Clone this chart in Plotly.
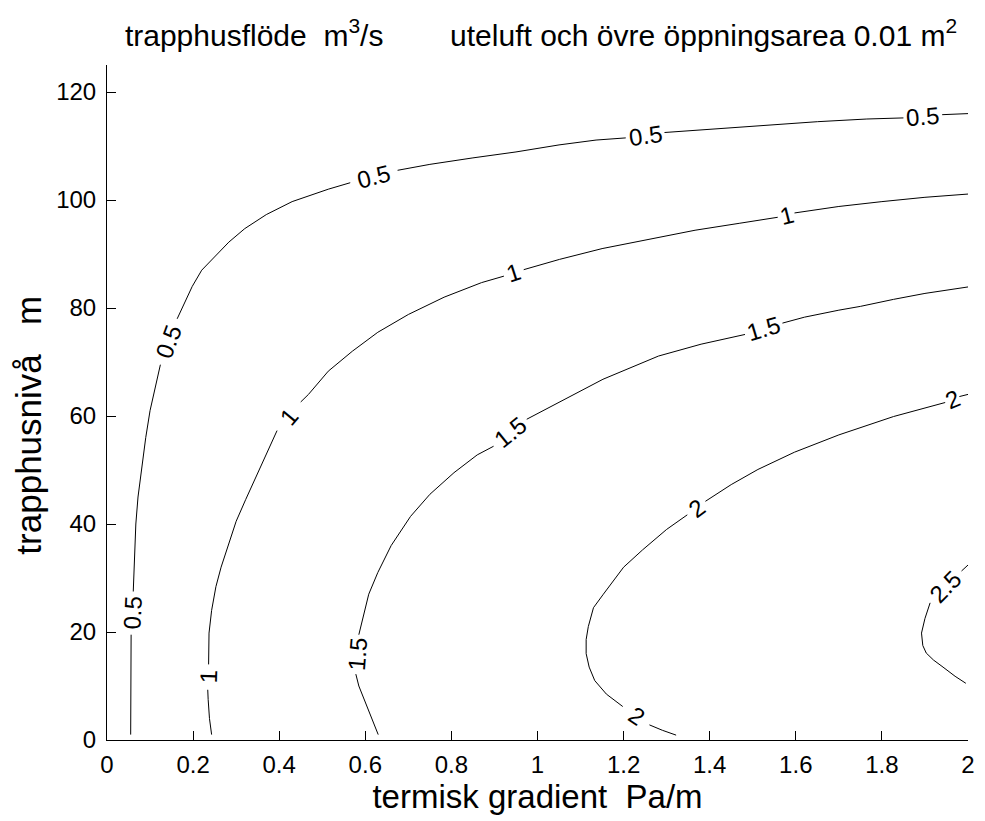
import math
import plotly.graph_objects as go

# ---------------- data ----------------
levels = [0.5, 1.0, 1.5, 2.0, 2.5]
level_text = ["0.5", "1", "1.5", "2", "2.5"]

# contour 0.5  (None = gap left for a label)
c05_x = [0.055, 0.055, 0.055, 0.056, None,
         0.061, 0.064, 0.067, 0.072, 0.080, 0.090, 0.100, 0.112, 0.124, None,
         0.163, 0.180, 0.198, 0.220, 0.250, 0.283, 0.320, 0.370, 0.430, 0.514, 0.565, None,
         0.675, 0.750, 0.850, 0.950, 1.050, 1.136, 1.205, None,
         1.295, 1.400, 1.520, 1.650, 1.765, 1.850, None,
         1.940, 2.000]
c05_y = [1.0, 10.0, 16.0, 19.5, None,
         27.5, 33.0, 40.0, 45.0, 50.0, 56.0, 61.0, 65.0, 69.5, None,
         78.0, 81.0, 84.0, 87.0, 89.5, 92.2, 94.7, 97.3, 99.7, 102.0, 103.2, None,
         105.5, 106.6, 107.8, 108.9, 110.2, 111.1, 111.5, None,
         112.5, 113.1, 113.8, 114.5, 115.0, 115.2, None,
         115.8, 116.0]

# contour 1
c10_x = [0.243, 0.238, 0.235, 0.234, None,
         0.236, 0.237, 0.243, 0.253, 0.265, 0.283, 0.300, 0.322, 0.345, 0.368, 0.395, None,
         0.450, 0.468, 0.514, 0.570, 0.629, 0.700, 0.783, 0.870, 0.922, None,
         0.968, 1.051, 1.150, 1.267, 1.366, 1.470, 1.558, None,
         1.597, 1.700, 1.800, 1.900, 2.000]
c10_y = [1.0, 4.0, 7.5, 9.3, None,
         14.0, 19.8, 24.0, 28.4, 32.0, 36.5, 40.5, 44.5, 48.5, 52.5, 57.3, None,
         62.6, 64.0, 68.3, 72.0, 75.5, 78.8, 82.0, 84.7, 85.9, None,
         87.1, 89.0, 91.0, 92.8, 94.4, 95.7, 96.8, None,
         97.6, 98.8, 99.7, 100.5, 101.1]

# contour 1.5
c15_x = [0.630, 0.615, 0.598, 0.585, 0.578, None,
         0.585, 0.595, 0.608, 0.629, 0.660, 0.705, 0.750, 0.806, 0.860, 0.898, None,
         0.975, 1.050, 1.152, 1.281, 1.380, 1.482, None,
         1.569, 1.620, 1.700, 1.750, 1.827, 1.900, 2.000]
c15_y = [1.0, 4.0, 7.4, 10.0, 12.2, None,
         19.5, 23.0, 27.0, 31.0, 36.0, 41.4, 45.5, 49.5, 52.8, 54.4, None,
         59.4, 62.5, 66.8, 71.1, 73.3, 75.1, None,
         77.2, 78.3, 79.6, 80.3, 81.6, 82.7, 83.9]

# contour 2
c20_x = [1.322, 1.290, 1.260, None,
         1.198, 1.160, 1.133, 1.120, 1.113, 1.113, 1.118, 1.130, 1.153, 1.166, 1.200, 1.244, 1.300, 1.348, None,
         1.390, 1.450, 1.512, 1.597, 1.700, 1.827, 1.947, None,
         1.980, 2.000]
c20_y = [0.9, 1.8, 2.8, None,
         6.2, 8.5, 11.0, 13.5, 16.0, 18.6, 21.0, 24.5, 27.0, 28.4, 32.0, 35.2, 39.0, 41.7, None,
         44.2, 47.3, 50.1, 53.3, 56.5, 59.9, 62.5, None,
         63.6, 64.0]

# contour 2.5
c25_x = [2.000, 1.985, None,
         1.912, 1.900, 1.892, 1.895, 1.903, 1.920, 1.942, 1.970, 1.995]
c25_y = [32.4, 31.3, None,
         25.4, 22.5, 19.8, 17.5, 16.1, 14.8, 13.5, 11.8, 10.5]

contours_x = [c05_x, c10_x, c15_x, c20_x, c25_x]
contours_y = [c05_y, c10_y, c15_y, c20_y, c25_y]

x_tickvals = [0, 0.2, 0.4, 0.6, 0.8, 1.0, 1.2, 1.4, 1.6, 1.8, 2.0]
x_ticktext = ["0", "0.2", "0.4", "0.6", "0.8", "1", "1.2", "1.4", "1.6", "1.8", "2"]
y_tickvals = [0, 20, 40, 60, 80, 100, 120]
y_ticktext = ["0", "20", "40", "60", "80", "100", "120"]

# ---------------- layout geometry ----------------
W, H = 985, 821
ML, MR, MT, MB = 107, 10, 65, 81
XR = [0, 2]
YR = [0, 125]
PW, PH = W - ML - MR, H - MT - MB
px_x = PW / (XR[1] - XR[0])
px_y = PH / (YR[1] - YR[0])

FONT = "Liberation Sans, Arial, Helvetica, sans-serif"
FS = 24        # ticks and contour labels
FS_AX = 33     # x axis title
FS_AY = 35     # y axis title
FS_T = 30      # figure title

fig = go.Figure()
annotations = []

for xs, ys, txt in zip(contours_x, contours_y, level_text):
    fig.add_trace(go.Scatter(x=xs, y=ys, mode="lines",
                             line=dict(color="black", width=1),
                             connectgaps=False, hoverinfo="skip",
                             showlegend=False))
    # labels sit in each gap of the line, rotated along it
    for i, v in enumerate(xs):
        if v is None:
            xa, ya = xs[i - 1], ys[i - 1]
            xb, yb = xs[i + 1], ys[i + 1]
            dx = (xb - xa) * px_x
            dy = (yb - ya) * px_y
            ang = math.degrees(math.atan2(-dy, dx))
            if ang > 90:
                ang -= 180
            if ang < -90:
                ang += 180
            annotations.append(dict(
                x=(xa + xb) / 2, y=(ya + yb) / 2, xref="x", yref="y",
                text=txt, showarrow=False, textangle=ang,
                font=dict(family=FONT, size=FS, color="black"),
                xanchor="center", yanchor="middle"))

sp = "\u00a0"

# y axis title (placed as a rotated annotation left of the tick labels)
annotations.append(dict(
    text="trapphusnivå" + sp * 3 + "m", textangle=-90,
    xref="paper", yref="paper",
    x=(27 - ML) / PW, y=(H - MB - 425) / PH,
    xanchor="center", yanchor="middle", showarrow=False,
    font=dict(family=FONT, size=FS_AY, color="black")))

title_text = ("trapphusflöde" + sp * 2 + "m<sup>3</sup>/s" + sp * 8 +
              "uteluft och övre öppningsarea 0.01 m<sup>2</sup>")

fig.update_layout(
    width=W, height=H,
    margin=dict(l=ML, r=MR, t=MT, b=MB, pad=0),
    paper_bgcolor="white", plot_bgcolor="white",
    font=dict(family=FONT, size=FS, color="black"),
    title=dict(text=title_text, x=(ML + PW / 2) / W, xanchor="center",
               y=1 - 35 / H, yanchor="middle", yref="container",
               font=dict(family=FONT, size=FS_T, color="black")),
    annotations=annotations,
    xaxis=dict(range=XR, tickvals=x_tickvals, ticktext=x_ticktext,
               ticks="inside", ticklen=9, tickwidth=1, tickcolor="black",
               showline=True, linecolor="black", linewidth=1, mirror=False,
               showgrid=False, zeroline=False, ticklabelstandoff=3,
               title=dict(text="termisk gradient" + sp * 2 + "Pa/m", standoff=2,
                          font=dict(family=FONT, size=FS_AX))),
    yaxis=dict(range=YR, tickvals=y_tickvals, ticktext=y_ticktext,
               ticks="inside", ticklen=9, tickwidth=1, tickcolor="black",
               showline=True, linecolor="black", linewidth=1, mirror=False,
               showgrid=False, zeroline=False, ticklabelstandoff=5),
)

fig.write_html("out.html")
